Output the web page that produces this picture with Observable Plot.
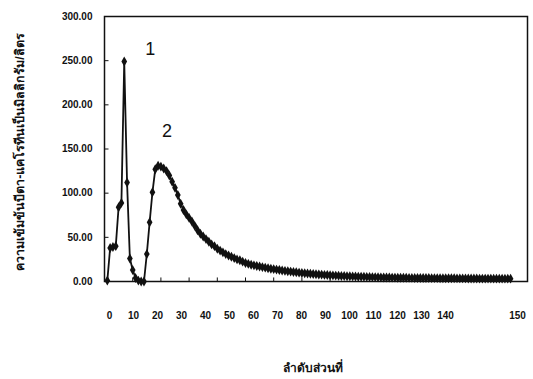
<!DOCTYPE html>
<html><head><meta charset="utf-8">
<script src="https://cdn.jsdelivr.net/npm/d3@7"></script>
<script src="https://cdn.jsdelivr.net/npm/@observablehq/plot@0.6"></script>
<style>
body{margin:0;background:#fff;}
#wrap{position:relative;width:533px;height:379px;overflow:hidden;font-family:"Liberation Sans",Arial,sans-serif;color:#111;}
#main{position:absolute;left:0;top:0;}
#xlabels{position:absolute;left:0;top:290px;}
#xtitle{position:absolute;left:313px;top:367px;transform:translate(-50%,-50%);font-size:12px;font-weight:bold;white-space:nowrap;}
#ytitle{position:absolute;left:20px;top:152px;transform:translate(-50%,-50%) rotate(-90deg);font-size:12.5px;font-weight:bold;white-space:nowrap;}
</style></head>
<body>
<div id="wrap">
  <div id="main"></div>
  <div id="xlabels"></div>
  <div id="xtitle">ลำดับส่วนที่</div>
  <div id="ytitle">ความเข้มข้นบีตา-แคโรทีนเป็นมิลลิกรัม/ลิตร</div>
</div>
<script>
// Fraction number (x) and concentration (y)
const fraction = [];
for (let i = 1; i <= 144; i++) fraction.push(i);
const concentration = [
  1, 38, 39, 40, 84, 89, 249, 112, 26, 13,
  4, 1, 0, 0, 31, 67, 101, 127, 131, 130,
  128, 125, 120, 113, 106, 98, 88, 81, 76, 72,
  68, 63, 58, 54, 51, 48, 45, 42, 40, 37,
  35, 33, 31, 29.5, 28, 26.5, 25, 24, 22.5, 21,
  20, 19, 18.3, 17.6, 17, 16.3, 15.7, 15, 14.5, 14,
  13.5, 13, 12.5, 12, 11.6, 11.2, 10.8, 10.4, 10, 9.7,
  9.4, 9.1, 8.8, 8.5, 8.2, 8, 7.8, 7.5, 7.3, 7.1,
  6.9, 6.7, 6.5, 6.3, 6.2, 6, 5.9, 5.8, 5.6, 5.5,
  5.4, 5.3, 5.2, 5.1, 5, 4.9, 4.8, 4.7, 4.6, 4.6,
  4.5, 4.4, 4.4, 4.3, 4.3, 4.2, 4.2, 4.1, 4.1, 4,
  4, 4, 3.9, 3.9, 3.9, 3.8, 3.8, 3.8, 3.7, 3.7,
  3.7, 3.6, 3.6, 3.6, 3.5, 3.5, 3.5, 3.5, 3.4, 3.4,
  3.4, 3.4, 3.3, 3.3, 3.3, 3.3, 3.3, 3.2, 3.2, 3.2,
  3.2, 3.2, 3.2, 3.2
];
const yTicks = [0, 50, 100, 150, 200, 250, 300];
const xTicks = [0, 10, 20, 30, 40, 50, 60, 70, 80, 90, 100, 110, 120, 130, 140, 150];
// tick labels as printed under the chart (spaced as in the picture)
const xTickLabels = ["0", "10", "20", "30", "40", "50", "60", "70", "80", "90", "100", "110", "120", "130", "140", "150"];
const xLabelSlots = ["0", "10", "20", "30", "40", "50", "60", "70", "80", "90", "100", "110", "120", "130", "140", "_a", "_b", "150"];
const peakLabels = ["1", "2"];

const data = fraction.map((f, i) => ({f, c: concentration[i]}));
// peaks: max of the first band (fractions 1-12) and of the second band (13+)
const peak1 = d3.greatest(data.filter(d => d.f <= 12), d => d.c);
const peak2 = d3.greatest(data.filter(d => d.f > 12), d => d.c);

const ink = "#111";
const main = Plot.plot({
  width: 533,
  height: 290,
  marginLeft: 104,
  marginRight: 6,
  marginTop: 16,
  marginBottom: 9,
  style: {fontFamily: "'Liberation Sans', Arial, sans-serif", color: ink, background: "transparent"},
  x: {domain: [0, 150], axis: null},
  y: {domain: [0, 300], axis: null},
  marks: [
    Plot.frame({stroke: ink, strokeWidth: 1.5}),
    Plot.ruleY(yTicks, {y: d => d, x1: 0, x2: 1.6, stroke: ink}),
    Plot.ruleX(xTicks, {x: d => d, y1: 0, y2: 4, stroke: ink}),
    Plot.axisY(yTicks, {label: null, tickSize: 0, tickPadding: 12, tickFormat: d => d.toFixed(2), fontSize: 10, fontWeight: "bold"}),
    Plot.line(data, {x: "f", y: "c", stroke: ink, strokeWidth: 1.8}),
    Plot.dot(data, {x: "f", y: "c", symbol: "diamond", r: 3, fill: ink}),
    Plot.text([peak1], {x: "f", y: "c", text: () => peakLabels[0], dx: 26, dy: -12, fontSize: 18, fill: ink}),
    Plot.text([peak2], {x: "f", y: "c", text: () => peakLabels[1], dx: 9, dy: -35, fontSize: 18, fill: ink})
  ]
});
document.getElementById("main").append(main);

const xl = Plot.plot({
  width: 533,
  height: 50,
  marginTop: 0,
  marginBottom: 0,
  marginLeft: 103,
  marginRight: 10,
  style: {fontFamily: "'Liberation Sans', Arial, sans-serif", color: ink, background: "transparent"},
  x: {type: "point", domain: xLabelSlots, padding: 0, axis: null},
  marks: [
    Plot.text(xTickLabels, {x: d => d, text: d => d, frameAnchor: "middle", fontSize: 10, fontWeight: "bold", fill: ink})
  ]
});
document.getElementById("xlabels").append(xl);
</script>
</body></html>
